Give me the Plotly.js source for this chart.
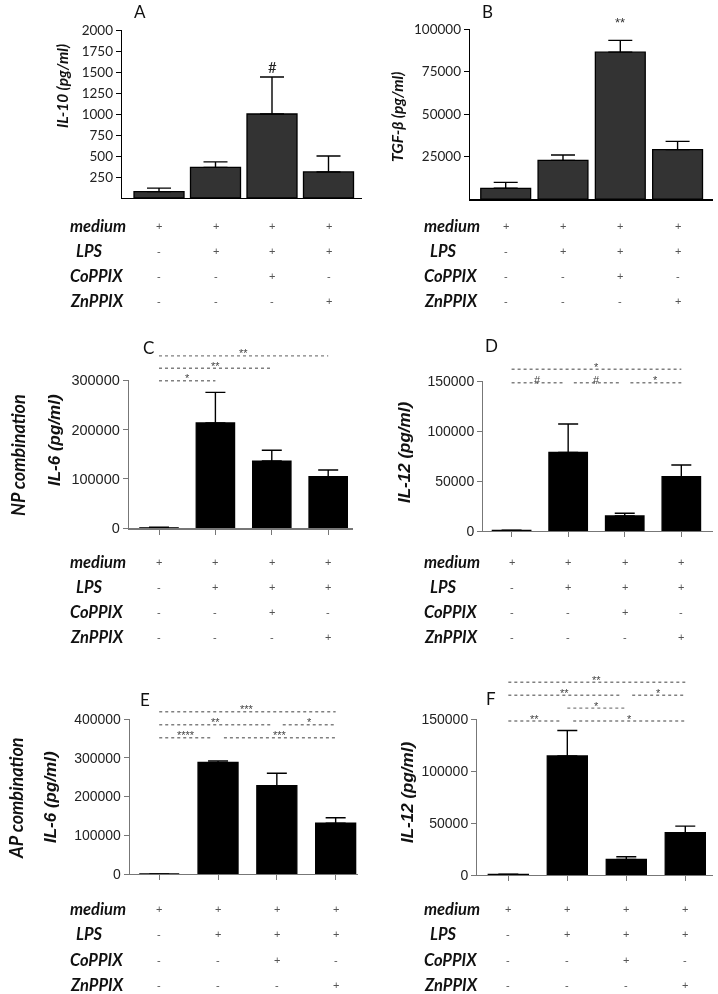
<!DOCTYPE html>
<html><head><meta charset="utf-8">
<script src="https://cdn.plot.ly/plotly-3.0.1.min.js"></script>
<style>html,body{margin:0;padding:0;background:#fff}#chart{width:718px;height:994px;filter:grayscale(1)}</style>
</head><body><div id="chart"></div>
<script>
// ---------- data ----------
const groups = ['medium', 'medium+LPS', 'medium+LPS+CoPPIX', 'medium+LPS+ZnPPIX'];
const treatmentNames = ['medium', 'LPS', 'CoPPIX', 'ZnPPIX'];
const mediumRow = ['+', '+', '+', '+'];
const lpsRow    = ['-', '+', '+', '+'];
const coppixRow = ['-', '-', '+', '-'];
const znppixRow = ['-', '-', '-', '+'];
const rowGroupLabels = ['NP combination', 'AP combination'];

// A: IL-10
const il10Mean  = [76, 365, 1000, 310];
const il10Upper = [117, 430, 1440, 500];
const il10Ticks = [250, 500, 750, 1000, 1250, 1500, 1750, 2000];
// B: TGF-beta
const tgfMean  = [6400, 22800, 86400, 29100];
const tgfUpper = [9900, 26000, 93300, 34000];
const tgfTicks = [25000, 50000, 75000, 100000];
// C: NP IL-6
const npIl6Mean  = [1000, 213000, 136000, 104500];
const npIl6Upper = [2000, 275000, 158000, 118000];
const npIl6Ticks = [0, 100000, 200000, 300000];
// D: NP IL-12
const npIl12Mean  = [500, 78500, 15000, 54300];
const npIl12Upper = [800, 107000, 17700, 66000];
const npIl12Ticks = [0, 50000, 100000, 150000];
// E: AP IL-6
const apIl6Mean  = [0, 288000, 228000, 131000];
const apIl6Upper = [0, 292000, 260000, 145000];
const apIl6Ticks = [0, 100000, 200000, 300000, 400000];
// F: AP IL-12
const apIl12Mean  = [500, 114400, 15000, 40700];
const apIl12Upper = [800, 139000, 17600, 47000];
const apIl12Ticks = [0, 50000, 100000, 150000];

// significance comparisons: [group from, group to, label, bracket row]
const sigC = [[0, 1, '*', 0], [0, 2, '**', 1], [0, 3, '**', 2]];
const sigD = [[0, 1, '#', 0], [1, 2, '#', 0], [2, 3, '*', 0], [0, 3, '*', 1]];
const sigE = [[0, 1, '****', 0], [1, 3, '***', 0], [0, 2, '**', 1], [2, 3, '*', 1], [0, 3, '***', 2]];
const sigF = [[0, 1, '**', 0], [1, 3, '*', 0], [1, 2, '*', 1], [0, 2, '**', 2], [2, 3, '*', 2], [0, 3, '**', 3]];

// ---------- layout helpers ----------
const W = 718, H = 994;
const fx = v => v / W;
const fy = v => 1 - v / H;
const CAL = 'Lato, "Open Sans", sans-serif';
const ARI = '"Liberation Sans", Arial, sans-serif';

const panels = [
  {n: 1, letter: 'A', mean: il10Mean, upper: il10Upper, ticks: il10Ticks, ytitle: 'IL-10 (pg/ml)',
   xDom: [122, 362], yDom: [30, 198], xRange: [-0.655, 3.593], fill: '#333333', axisColor: '#000', tickFont: CAL, tickSize: 13.5,
   xticks: '', barW: 0.885, cap: 12, letterPos: [140, 12], titlePos: [62, 86], titleFont: CAL, titleSize: 15.5,
   tableY: 225.7, labelX: 68, sig: [], sigBase: 0},
  {n: 2, letter: 'B', mean: tgfMean, upper: tgfUpper, ticks: tgfTicks, ytitle: 'TGF-β (pg/ml)',
   xDom: [470, 713], yDom: [29, 199.2], xRange: [-0.623, 3.618], fill: '#333333', axisColor: '#000', tickFont: CAL, tickSize: 13.5,
   xticks: '', barW: 0.87, cap: 12, letterPos: [487, 12], titlePos: [397, 117], titleFont: CAL, titleSize: 15.5,
   tableY: 225.7, labelX: 422, sig: [], sigBase: 0},
  {n: 3, letter: 'C', mean: npIl6Mean, upper: npIl6Upper, ticks: npIl6Ticks, ytitle: 'IL-6 (pg/ml)',
   xDom: [129, 353], yDom: [380, 528.3], xRange: [-0.532, 3.44], fill: '#000', axisColor: '#777', tickFont: ARI, tickSize: 14.5,
   xticks: 'outside', barW: 0.68, cap: 10, letterPos: [148, 347], titlePos: [54, 440], titleFont: ARI, titleSize: 17,
   tableY: 561.5, labelX: 68, sig: sigC, sigBase: 380.7, sigStep: 12.4},
  {n: 4, letter: 'D', mean: npIl12Mean, upper: npIl12Upper, ticks: npIl12Ticks, ytitle: 'IL-12 (pg/ml)',
   xDom: [483.3, 713], yDom: [381, 531], xRange: [-0.5, 3.56], fill: '#000', axisColor: '#777', tickFont: ARI, tickSize: 14,
   xticks: 'outside', barW: 0.68, cap: 10, letterPos: [491, 346], titlePos: [405, 453], titleFont: ARI, titleSize: 17,
   tableY: 561.5, labelX: 422, sig: sigD, sigBase: 382.7, sigStep: 13.4},
  {n: 5, letter: 'E', mean: apIl6Mean, upper: apIl6Upper, ticks: apIl6Ticks, ytitle: 'IL-6 (pg/ml)',
   xDom: [130, 358], yDom: [719, 874], xRange: [-0.497, 3.38], fill: '#000', axisColor: '#777', tickFont: ARI, tickSize: 14,
   xticks: 'outside', barW: 0.68, cap: 10, letterPos: [145, 699], titlePos: [50, 797], titleFont: ARI, titleSize: 17,
   tableY: 909.3, labelX: 68, sig: sigE, sigBase: 737.7, sigStep: 13},
  {n: 6, letter: 'F', mean: apIl12Mean, upper: apIl12Upper, ticks: apIl12Ticks, ytitle: 'IL-12 (pg/ml)',
   xDom: [477.3, 713], yDom: [719, 875], xRange: [-0.526, 3.47], fill: '#000', axisColor: '#777', tickFont: ARI, tickSize: 14,
   xticks: 'outside', barW: 0.68, cap: 10, letterPos: [491, 698], titlePos: [407, 793], titleFont: ARI, titleSize: 17,
   tableY: 909.3, labelX: 422, sig: sigF, sigBase: 721, sigStep: 12.9}
];

const tableRows = [mediumRow, lpsRow, coppixRow, znppixRow];
const xIdx = groups.map((g, i) => i);

const data = [];
const layout = {
  width: W, height: H, margin: {l: 0, r: 0, t: 0, b: 0},
  paper_bgcolor: '#fff', plot_bgcolor: 'rgba(0,0,0,0)', showlegend: false,
  annotations: [], shapes: []
};

panels.forEach(p => {
  const sfx = p.n === 1 ? '' : String(p.n);
  const xa = 'x' + sfx, ya = 'y' + sfx;
  data.push({
    type: 'bar', x: xIdx, y: p.mean, xaxis: xa, yaxis: ya, width: p.barW,
    hovertext: groups, hoverinfo: 'text+y',
    marker: {color: p.fill, line: {color: '#000', width: 1.3}},
    error_y: {type: 'data', symmetric: false,
      array: p.upper.map((u, i) => u - p.mean[i]), arrayminus: p.mean.map(() => 0),
      color: '#000', thickness: 1.4, width: p.cap}
  });
  layout['xaxis' + sfx] = {
    domain: [fx(p.xDom[0]), fx(p.xDom[1])], anchor: ya, range: p.xRange,
    showline: true, linecolor: p.axisColor, linewidth: 1.3, mirror: false,
    ticks: p.xticks, ticklen: 5, tickcolor: p.axisColor, tickvals: xIdx,
    showticklabels: false, showgrid: false, zeroline: false, fixedrange: true
  };
  const yMax = p.ticks[p.ticks.length - 1];
  layout['yaxis' + sfx] = {
    domain: [fy(p.yDom[1]), fy(p.yDom[0])], anchor: xa, range: [0, yMax],
    showline: true, linecolor: p.axisColor, linewidth: 1.3,
    ticks: 'outside', ticklen: 5, tickcolor: p.axisColor, tickvals: p.ticks, tickformat: 'd',
    tickfont: {family: p.tickFont, size: p.tickSize, color: '#222'},
    showgrid: false, zeroline: false, fixedrange: true
  };
  // panel letter
  layout.annotations.push({xref: 'paper', yref: 'paper', x: fx(p.letterPos[0]), y: fy(p.letterPos[1]),
    text: p.letter, showarrow: false, xanchor: 'center', yanchor: 'middle',
    font: {family: CAL, size: 17, color: '#111'}});
  // y-axis title
  layout.annotations.push({xref: 'paper', yref: 'paper', x: fx(p.titlePos[0]), y: fy(p.titlePos[1]),
    text: '<b><i>' + p.ytitle + '</i></b>', textangle: -90, showarrow: false,
    xanchor: 'center', yanchor: 'middle', font: {family: p.titleFont, size: p.titleSize, color: '#111'}});
  // treatment table
  treatmentNames.forEach((name, r) => {
    const yy = fy(p.tableY + r * 25.1);
    layout.annotations.push({xref: 'paper', yref: 'paper', x: fx(p.labelX + (name === 'LPS' ? 6 : 0)), y: yy,
      text: '<b><i>' + name + '</i></b>', showarrow: false, xanchor: 'left', yanchor: 'middle',
      font: {family: CAL, size: 16.5, color: '#111'}});
    tableRows[r].forEach((s, i) => {
      layout.annotations.push({xref: xa, yref: 'paper', x: i, y: yy, text: s, showarrow: false,
        xanchor: 'center', yanchor: 'middle', font: {family: ARI, size: 11, color: '#555'}});
    });
  });
  // significance brackets
  p.sig.forEach(([a, b, lab, row]) => {
    const shareStart = p.sig.some(o => o[3] === row && o[1] === a);
    const shareEnd = p.sig.some(o => o[3] === row && o[0] === b);
    const x0 = a + (shareStart ? 0.1 : 0), x1 = b - (shareEnd ? 0.1 : 0);
    const yy = fy(p.sigBase - row * p.sigStep);
    layout.shapes.push({type: 'line', xref: xa, yref: 'paper', x0: x0, x1: x1, y0: yy, y1: yy,
      line: {color: '#808080', width: 1.4, dash: 'dot'}});
    layout.annotations.push({xref: xa, yref: 'paper', x: (x0 + x1) / 2, y: yy, text: lab, showarrow: false,
      xanchor: 'center', yanchor: 'middle', yshift: lab === '#' ? 2.9 : 2.5, borderpad: 0,
      font: {family: ARI, size: 11, color: '#444'}});
  });
});

// row group labels (left margin)
[[rowGroupLabels[0], 18, 455], [rowGroupLabels[1], 16, 798]].forEach(([t, x, y]) => {
  layout.annotations.push({xref: 'paper', yref: 'paper', x: fx(x), y: fy(y), text: '<b><i>' + t + '</i></b>',
    textangle: -90, showarrow: false, xanchor: 'center', yanchor: 'middle',
    font: {family: CAL, size: 18, color: '#111'}});
});

// group-level markers above bars in A and B
layout.annotations.push({xref: 'x', yref: 'paper', x: 2, y: fy(67), text: '#', showarrow: false,
  xanchor: 'center', yanchor: 'middle', font: {family: CAL, size: 15, color: '#222'}});
layout.annotations.push({xref: 'x2', yref: 'paper', x: 2, y: fy(22), text: '**', showarrow: false,
  xanchor: 'center', yanchor: 'middle', font: {family: ARI, size: 13, color: '#333'}});

Plotly.newPlot('chart', data, layout, {displayModeBar: false, staticPlot: true});
</script>
</body></html>
